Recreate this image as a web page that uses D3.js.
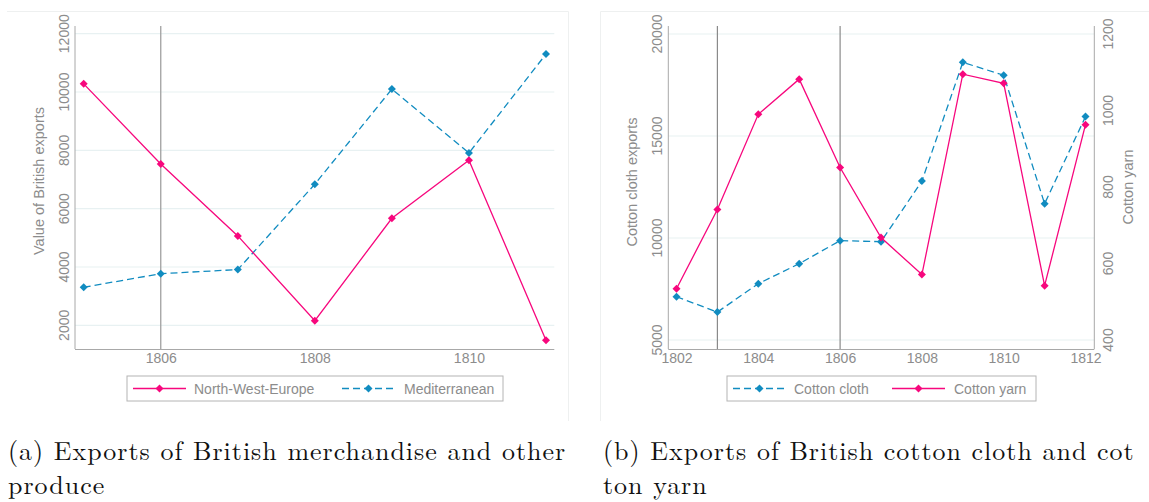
<!DOCTYPE html>
<html>
<head>
<meta charset="utf-8">
<script src="https://cdn.jsdelivr.net/npm/d3@7"></script>
<style>
  html, body { margin: 0; padding: 0; background: #fff; }
  svg { display: block; }
</style>
</head>
<body>
<svg id="fig" width="1149" height="502"></svg>
<script>
// ---- Panel (a): exports of British merchandise ----
const yearsA = [1805, 1806, 1807, 1808, 1809, 1810, 1811];
const northWestEurope = [10280, 7530, 5065, 2160, 5670, 7660, 1490];
const mediterranean = [3305, 3770, 3910, 6840, 10100, 7910, 11300];
const ticksAx = [1806, 1808, 1810];
const ticksAy = [2000, 4000, 6000, 8000, 10000, 12000];
const markerLinesA = [1806];

// ---- Panel (b): cotton cloth and cotton yarn ----
const yearsB = [1802, 1803, 1804, 1805, 1806, 1807, 1808, 1809, 1810, 1811, 1812];
const cottonCloth = [7120, 6370, 7760, 8740, 9870, 9820, 12790, 18610, 17980, 11680, 15950];
const cottonYarn = [534, 741, 990, 1082, 851, 668, 571, 1095, 1071, 542, 963];
const ticksBx = [1802, 1804, 1806, 1808, 1810, 1812];
const ticksBy = [5000, 10000, 15000, 20000];
const ticksByRight = [400, 600, 800, 1000, 1200];
const markerLinesB = [1803, 1806];

const PINK = "#f7077d";
const BLUE = "#118cc0";
const TEXT = "#8c8c8c";
const GRID = "#e8f1f2";
const AXIS = "#a8a8a8";
const FONT = "'Liberation Sans', Arial, sans-serif";

const svg = d3.select("#fig");
svg.append("rect").attr("width", 1149).attr("height", 502).attr("fill", "#fff");

// diamond marker (rotated square)
function diamond(r) {
  return `M0,${-r}L${r},0L0,${r}L${-r},0Z`;
}

function drawSeries(g, data, x, y, color, dashed) {
  const line = d3.line().x(d => x(d[0])).y(d => y(d[1]));
  g.append("path").datum(data)
    .attr("d", line)
    .attr("fill", "none")
    .attr("stroke", color)
    .attr("stroke-width", 1.3)
    .attr("stroke-dasharray", dashed ? "7,4" : null);
  g.selectAll(null).data(data).enter().append("path")
    .attr("transform", d => `translate(${x(d[0])},${y(d[1])})`)
    .attr("d", diamond(4))
    .attr("fill", color);
}

function legend(g, x0, y0, w, items) {
  g.append("rect").attr("x", x0).attr("y", y0).attr("width", w).attr("height", 25)
    .attr("fill", "#fff").attr("stroke", "#b4b4b4").attr("stroke-width", 1);
  items.forEach(it => {
    g.append("line").attr("x1", it.lx).attr("x2", it.lx + 53)
      .attr("y1", y0 + 12.5).attr("y2", y0 + 12.5)
      .attr("stroke", it.color).attr("stroke-width", 1.3)
      .attr("stroke-dasharray", it.dashed ? "7,4" : null);
    g.append("path").attr("transform", `translate(${it.lx + 26.5},${y0 + 12.5})`)
      .attr("d", diamond(4)).attr("fill", it.color);
    g.append("text").attr("x", it.tx).attr("y", y0 + 17.5)
      .attr("font-family", FONT).attr("font-size", 14).attr("fill", TEXT)
      .text(it.label);
  });
}

function rotLabel(g, x, y, txt, size) {
  g.append("text").attr("transform", `translate(${x},${y}) rotate(-90)`)
    .attr("text-anchor", "middle").attr("dominant-baseline", "central")
    .attr("font-family", FONT).attr("font-size", size).attr("fill", TEXT)
    .text(txt);
}

// ================= Panel (a) =================
{
  const g = svg.append("g");
  // panel frame
  g.append("path").attr("d", "M7,11.5H568.5V421")
    .attr("fill", "none").attr("stroke", "#eef0f0").attr("stroke-width", 1);

  const left = 75, right = 554.3, top = 26, bottom = 349;
  const x = d3.scaleLinear().domain([1804.887, 1811.108]).range([left, right]);
  const y = d3.scaleLinear().domain([2000, 12000]).range([325.3, 33.7]);

  // grid
  g.selectAll(null).data(ticksAy).enter().append("line")
    .attr("x1", left).attr("x2", right)
    .attr("y1", d => y(d)).attr("y2", d => y(d))
    .attr("stroke", GRID).attr("stroke-width", 1.2);

  // vertical reference lines
  g.selectAll(null).data(markerLinesA).enter().append("line")
    .attr("x1", d => x(d)).attr("x2", d => x(d))
    .attr("y1", top).attr("y2", bottom)
    .attr("stroke", "#a0a0a0").attr("stroke-width", 1.3);

  // axes
  const xAxis = d3.axisBottom(x).tickValues(ticksAx).tickFormat(d3.format("d")).tickSize(0).tickPadding(4);
  const gx = g.append("g").attr("transform", `translate(0,${bottom})`).call(xAxis);
  gx.select(".domain").attr("stroke", AXIS).attr("d", `M${left},0.5H${right}`);
  gx.selectAll("text").attr("font-family", FONT).attr("font-size", 14).attr("fill", TEXT);

  g.append("line").attr("x1", left).attr("x2", left).attr("y1", top).attr("y2", bottom)
    .attr("stroke", AXIS).attr("stroke-width", 1);
  ticksAy.forEach(t => rotLabel(g, 63.5, y(t), d3.format("d")(t), 14));
  rotLabel(g, 39, 181, "Value of British exports", 14.5);

  drawSeries(g, yearsA.map((d, i) => [d, mediterranean[i]]), x, y, BLUE, true);
  drawSeries(g, yearsA.map((d, i) => [d, northWestEurope[i]]), x, y, PINK, false);

  legend(g, 127, 376, 376, [
    { lx: 133, tx: 194, color: PINK, dashed: false, label: "North-West-Europe" },
    { lx: 342, tx: 404, color: BLUE, dashed: true, label: "Mediterranean" }
  ]);
}

// ================= Panel (b) =================
{
  const g = svg.append("g");
  g.append("path").attr("d", "M600.5,421V11.5H1149")
    .attr("fill", "none").attr("stroke", "#eef0f0").attr("stroke-width", 1);

  const left = 668.3, right = 1094.3, top = 26, bottom = 349;
  const x = d3.scaleLinear().domain([1802, 1812]).range([676.5, 1085.5]);
  const y = d3.scaleLinear().domain([5000, 20000]).range([340, 34]);
  const y2 = d3.scaleLinear().domain([400, 1200]).range([340, 34]);

  g.selectAll(null).data(ticksBy).enter().append("line")
    .attr("x1", left).attr("x2", right)
    .attr("y1", d => y(d)).attr("y2", d => y(d))
    .attr("stroke", GRID).attr("stroke-width", 1.2);

  g.selectAll(null).data(markerLinesB).enter().append("line")
    .attr("x1", d => x(d)).attr("x2", d => x(d))
    .attr("y1", top).attr("y2", bottom)
    .attr("stroke", "#8a8a8a").attr("stroke-width", 1.2);

  const xAxis = d3.axisBottom(x).tickValues(ticksBx).tickFormat(d3.format("d")).tickSize(0).tickPadding(4);
  const gx = g.append("g").attr("transform", `translate(0,${bottom})`).call(xAxis);
  gx.select(".domain").attr("stroke", AXIS).attr("d", `M${left},0.5H${right}`);
  gx.selectAll("text").attr("font-family", FONT).attr("font-size", 14).attr("fill", TEXT);

  g.append("line").attr("x1", left).attr("x2", left).attr("y1", top).attr("y2", bottom)
    .attr("stroke", AXIS).attr("stroke-width", 1);
  g.append("line").attr("x1", right).attr("x2", right).attr("y1", top).attr("y2", bottom)
    .attr("stroke", AXIS).attr("stroke-width", 1);

  ticksBy.forEach(t => rotLabel(g, 656.5, y(t), d3.format("d")(t), 14));
  ticksByRight.forEach(t => rotLabel(g, 1108, y2(t), d3.format("d")(t), 14));
  rotLabel(g, 632, 182, "Cotton cloth exports", 14.5);
  rotLabel(g, 1128, 187, "Cotton yarn", 14.5);

  drawSeries(g, yearsB.map((d, i) => [d, cottonCloth[i]]), x, y, BLUE, true);
  drawSeries(g, yearsB.map((d, i) => [d, cottonYarn[i]]), x, y2, PINK, false);

  legend(g, 727, 376, 309, [
    { lx: 733, tx: 794, color: BLUE, dashed: true, label: "Cotton cloth" },
    { lx: 892, tx: 954, color: PINK, dashed: false, label: "Cotton yarn" }
  ]);
}

// ================= Captions =================
const SERIF = "'Latin Modern Roman', 'CMU Serif', 'Liberation Serif', 'DejaVu Serif', serif";
const CAP_SIZE = 26;
const captions = [
  { x: 8, y: 460, text: "(a) Exports of British merchandise and other" },
  { x: 8, y: 494, text: "produce" },
  { x: 603, y: 460, text: "(b) Exports of British cotton cloth and cot" },
  { x: 603, y: 494, text: "ton yarn" }
];
const capText = svg.selectAll(null).data(captions).enter().append("text")
  .attr("x", d => d.x).attr("y", d => d.y)
  .attr("font-family", SERIF).attr("font-size", CAP_SIZE).attr("fill", "#111")
  .text(d => d.text);
// loosen the tracking so the first caption line spans the width of its panel
const first = capText.nodes()[0];
const w0 = first.getComputedTextLength();
const nChars = captions[0].text.length;
const spacing = Math.max(0, (558 - w0) / nChars);
capText.attr("letter-spacing", spacing.toFixed(2));
</script>
</body>
</html>
